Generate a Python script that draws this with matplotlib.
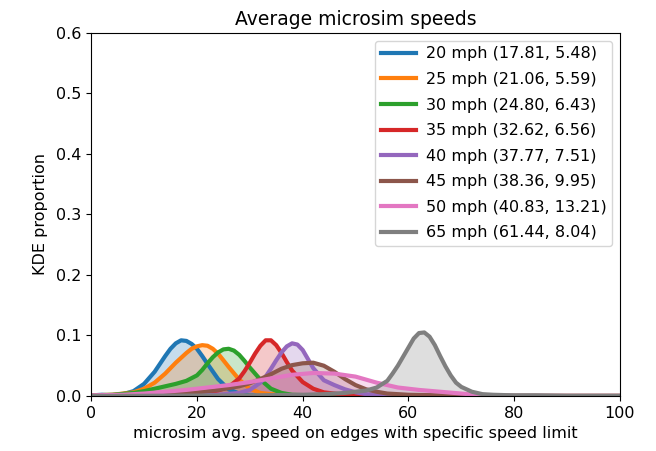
import numpy as np
import matplotlib
matplotlib.use("Agg")
import matplotlib.pyplot as plt


OUTPUT_PATH = "out.png"

# legend labels: speed limit (mean, std)
labels = [
    "20 mph (17.81, 5.48)",
    "25 mph (21.06, 5.59)",
    "30 mph (24.80, 6.43)",
    "35 mph (32.62, 6.56)",
    "40 mph (37.77, 7.51)",
    "45 mph (38.36, 9.95)",
    "50 mph (40.83, 13.21)",
    "65 mph (61.44, 8.04)",
]

colors = ["#1f77b4", "#ff7f0e", "#2ca02c", "#d62728",
          "#9467bd", "#8c564b", "#e377c2", "#7f7f7f"]

# KDE curves (speed, density)
kde_20_x = [0, 2, 4, 6, 8, 10, 12, 13, 14, 15, 16, 17, 18, 19, 20, 21, 22, 24, 26, 28, 30, 34, 100]
kde_20_y = [0.001, 0.002, 0.001, 0.003, 0.008, 0.020, 0.040, 0.053, 0.066, 0.078, 0.087, 0.092, 0.091,
            0.086, 0.078, 0.066, 0.053, 0.028, 0.011, 0.004, 0.001, 0.0, 0.0]

kde_25_x = [0, 4, 8, 10, 12, 14, 16, 18, 19, 20, 21, 22, 23, 24, 26, 28, 30, 32, 34, 36, 40, 44, 100]
kde_25_y = [0.001, 0.002, 0.006, 0.012, 0.022, 0.037, 0.055, 0.071, 0.078, 0.082, 0.084, 0.083, 0.078,
            0.070, 0.048, 0.027, 0.012, 0.005, 0.003, 0.002, 0.001, 0.0, 0.0]

kde_30_x = [0, 4, 8, 10, 12, 14, 16, 18, 20, 21, 22, 23, 24, 25, 26, 27, 28, 29, 30, 32, 34, 36, 38, 42, 50, 100]
kde_30_y = [0.001, 0.002, 0.005, 0.008, 0.012, 0.016, 0.020, 0.025, 0.034, 0.043, 0.054, 0.064, 0.072,
            0.077, 0.078, 0.075, 0.068, 0.058, 0.047, 0.027, 0.012, 0.005, 0.002, 0.001, 0.0, 0.0]

kde_35_x = [0, 10, 16, 20, 22, 24, 26, 28, 29, 30, 31, 32, 33, 34, 35, 36, 37, 38, 40, 42, 44, 46, 48, 52, 60, 100]
kde_35_y = [0.0, 0.001, 0.002, 0.004, 0.006, 0.009, 0.015, 0.029, 0.041, 0.055, 0.070, 0.083, 0.092,
            0.092, 0.084, 0.071, 0.056, 0.042, 0.023, 0.012, 0.006, 0.004, 0.002, 0.001, 0.0, 0.0]

kde_40_x = [0, 20, 24, 28, 30, 32, 33, 34, 35, 36, 37, 38, 39, 40, 41, 42, 44, 46, 48, 50, 52, 56, 60, 100]
kde_40_y = [0.0, 0.001, 0.002, 0.005, 0.010, 0.022, 0.032, 0.045, 0.059, 0.072, 0.082, 0.087, 0.085,
            0.076, 0.061, 0.046, 0.026, 0.018, 0.011, 0.006, 0.003, 0.001, 0.0, 0.0]

kde_45_x = [0, 10, 16, 20, 24, 28, 30, 32, 34, 36, 38, 40, 42, 44, 46, 48, 50, 52, 54, 56, 60, 66, 72, 100]
kde_45_y = [0.0, 0.002, 0.004, 0.006, 0.010, 0.016, 0.021, 0.028, 0.036, 0.045, 0.051, 0.054, 0.055,
            0.050, 0.040, 0.028, 0.018, 0.011, 0.007, 0.004, 0.002, 0.001, 0.0, 0.0]

kde_50_x = [0, 6, 10, 14, 18, 22, 26, 30, 34, 38, 42, 46, 50, 54, 58, 62, 66, 70, 74, 80, 100]
kde_50_y = [0.001, 0.002, 0.004, 0.007, 0.010, 0.014, 0.018, 0.023, 0.029, 0.035, 0.038, 0.037,
            0.032, 0.022, 0.014, 0.010, 0.007, 0.004, 0.001, 0.0, 0.0]

kde_65_x = [0, 30, 40, 44, 48, 52, 54, 56, 57, 58, 59, 60, 61, 62, 63, 64, 65, 66, 67, 68, 69, 70,
            72, 74, 76, 80, 84, 90, 100]
kde_65_y = [0.0, 0.001, 0.002, 0.003, 0.005, 0.009, 0.014, 0.025, 0.037, 0.050, 0.065, 0.080, 0.095,
            0.104, 0.105, 0.098, 0.084, 0.066, 0.049, 0.034, 0.022, 0.015, 0.007, 0.003, 0.002,
            0.001, 0.001, 0.0, 0.0]

curves_x = [kde_20_x, kde_25_x, kde_30_x, kde_35_x, kde_40_x, kde_45_x, kde_50_x, kde_65_x]
curves_y = [kde_20_y, kde_25_y, kde_30_y, kde_35_y, kde_40_y, kde_45_y, kde_50_y, kde_65_y]

x_ticks = [0, 20, 40, 60, 80, 100]
y_ticks = [0.0, 0.1, 0.2, 0.3, 0.4, 0.5, 0.6]


def plot_speed_kdes():
    fig = plt.figure(figsize=(6.56, 4.51), dpi=100)
    ax = fig.add_axes([0.139, 0.122, 0.806, 0.805])

    for xs, ys, color, label in zip(curves_x, curves_y, colors, labels):
        xs = np.array(xs)
        ys = np.array(ys)
        ax.fill_between(xs, ys, color=color, alpha=0.25, linewidth=0)
        ax.plot(xs, ys, color=color, linewidth=3, label=label)

    ax.set_xlim(0, 100)
    ax.set_ylim(0, 0.6)
    ax.set_xticks(x_ticks)
    ax.set_yticks(y_ticks)
    ax.tick_params(labelsize=11.5)
    ax.set_title("Average microsim speeds", fontsize=13.5)
    ax.set_xlabel("microsim avg. speed on edges with specific speed limit", fontsize=11.5)
    ax.set_ylabel("KDE proportion", fontsize=11.5, labelpad=6)
    ax.legend(loc="upper right", fontsize=11.5, handlelength=2.2, labelspacing=0.66,
              handletextpad=0.6, borderpad=0.35)

    fig.savefig(OUTPUT_PATH, dpi=100)
    plt.close(fig)


if __name__ == "__main__":
    plot_speed_kdes()
